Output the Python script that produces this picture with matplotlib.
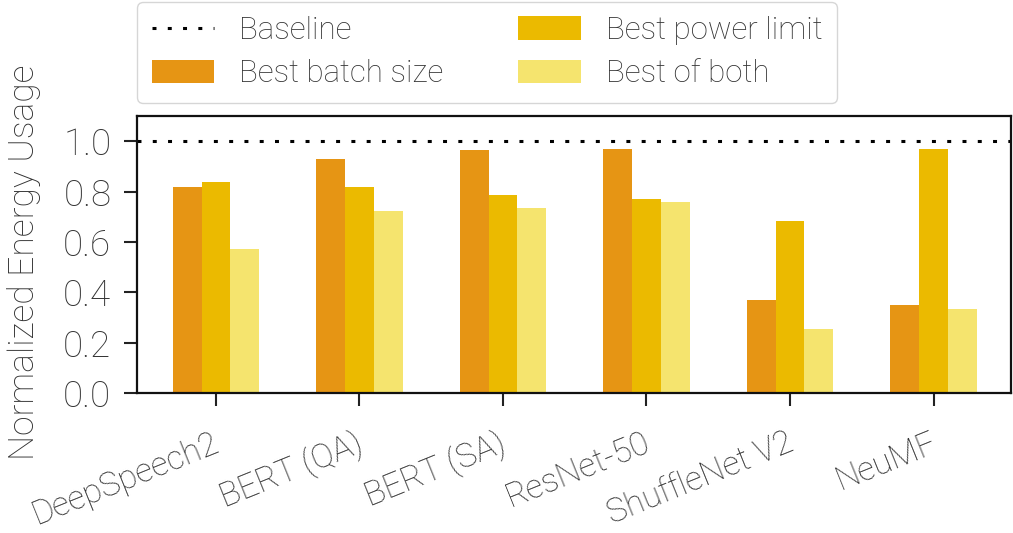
import matplotlib
matplotlib.use("Agg")
import matplotlib.pyplot as plt
import matplotlib.transforms as mtransforms
import numpy as np

categories = ["DeepSpeech2", "BERT (QA)", "BERT (SA)", "ResNet-50", "ShuffleNet V2", "NeuMF"]
best_batch = [0.82, 0.93, 0.965, 0.967, 0.368, 0.349]
best_power = [0.837, 0.82, 0.787, 0.772, 0.684, 0.967]
best_both = [0.572, 0.723, 0.734, 0.760, 0.253, 0.332]
baseline = 1.0
yticks = [0.0, 0.2, 0.4, 0.6, 0.8, 1.0]

plt.rcParams['font.family'] = ['Roboto', 'DejaVu Sans']
plt.rcParams['font.weight'] = 'light'
plt.rcParams['axes.labelweight'] = 'light'

fig = plt.figure(figsize=(10.13, 5.33), dpi=100)
ax = fig.add_axes([137/1013, 1-393/533, (1011-137)/1013, (393-116)/533])

x = np.arange(len(categories))
w = 0.2
c_batch = "#E69514"
c_power = "#EBBA00"
c_both = "#F5E46E"
tc = "#333333"

l0 = ax.axhline(baseline, color="black", linestyle=(0, (1.3, 3.7)), linewidth=2.2, label="Baseline")
b1 = ax.bar(x - w, best_batch, w, color=c_batch, label="Best batch size")
b2 = ax.bar(x, best_power, w, color=c_power, label="Best power limit")
b3 = ax.bar(x + w, best_both, w, color=c_both, label="Best of both")

ax.set_xlim(-0.55, 5.54)
ax.set_ylim(0, 1.1)
ax.set_yticks(yticks)
ax.set_yticklabels([f"{v:.1f}" for v in yticks], fontsize=26.5, color=tc, fontweight="light")
ax.set_xticks(x)
ax.set_xticklabels(categories, rotation=22, ha="right", va="top",
                   fontsize=24, color=tc, fontweight="light")
ax.tick_params(axis="both", length=9.5, width=1.5, color="#222222")
ax.tick_params(axis="y", pad=9)
ax.tick_params(axis="x", pad=15)
offset = mtransforms.ScaledTranslation(8/100, 0, fig.dpi_scale_trans)
for lab in ax.get_xticklabels():
    lab.set_transform(lab.get_transform() + offset)
for s in ax.spines.values():
    s.set_linewidth(1.6)
    s.set_color("#111111")
ax.set_ylabel("Normalized Energy Usage", fontsize=25.5, color=tc, fontweight="light")
ax.yaxis.set_label_coords((41-137)/874, (393-262)/277)

leg = fig.legend([l0, b1, b2, b3], ["Baseline", "Best batch size", "Best power limit", "Best of both"],
                 ncol=2, loc="lower left", bbox_to_anchor=(137/1013, 1-103/533),
                 fontsize=22.5, frameon=True, fancybox=True, edgecolor="#cccccc",
                 handlelength=2.0, handleheight=0.8, handletextpad=0.8,
                 columnspacing=2.4, borderpad=0.47,
                 labelspacing=0.45, borderaxespad=0)
for t in leg.get_texts():
    t.set_color(tc)

fig.savefig("out.png", dpi=100)
